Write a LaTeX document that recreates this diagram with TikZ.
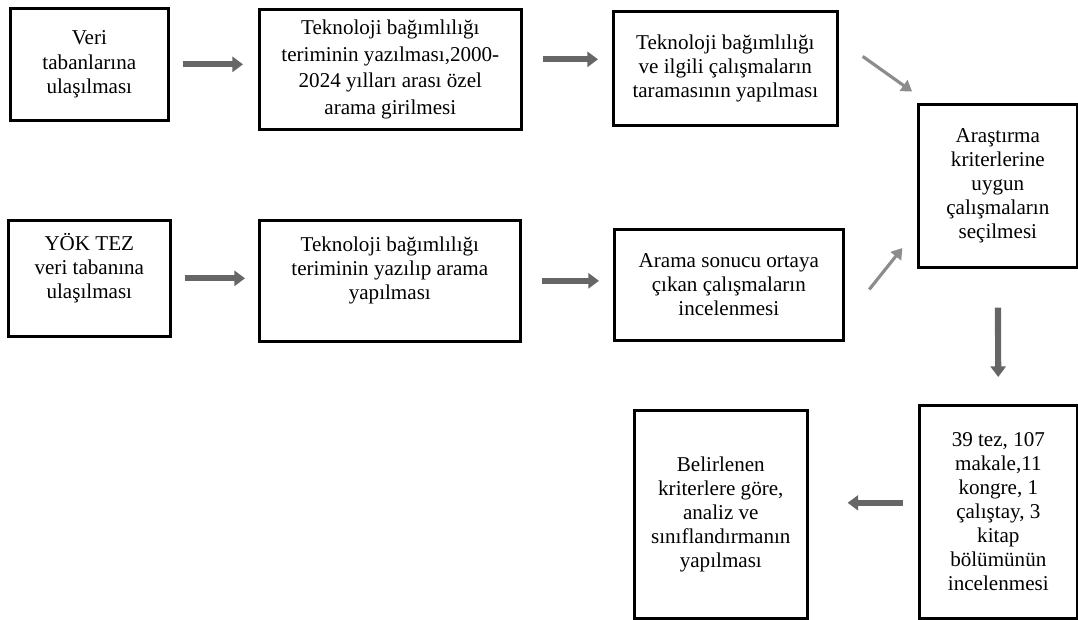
\documentclass[tikz,border=0pt]{standalone}
\usepackage{fontspec}
\setmainfont{Liberation Serif}
\usepackage{tikz}
\usetikzlibrary{arrows.meta}

\tikzset{
  stepbox/.style={draw, line width=1.5pt, inner sep=2pt, align=center,
    anchor=north west, font=\fontsize{12}{13.7}\selectfont},
  fatarrow/.style={draw=black!60, line width=3.5pt,
    -{Triangle[length=6pt,width=8.5pt]}},
  thinarrow/.style={draw=black!45, line width=1.8pt,
    -{Triangle[length=6pt,width=7.5pt]}},
}

\begin{document}
\begin{tikzpicture}
    \useasboundingbox (0,0) rectangle (21.56,-12.38);

    \node [stepbox, minimum width=3.16cm, minimum height=2.24cm] (veri) at (0.18,-0.14)
      {Veri\\tabanlarına\\ulaşılması};
    \node [stepbox, minimum width=5.24cm, minimum height=2.40cm,
      font=\fontsize{12}{15.2}\selectfont] (terim) at (5.16,-0.16)
      {Teknoloji bağımlılığı\\teriminin yazılması,2000-\\2024 yılları arası özel\\arama girilmesi};
    \node [stepbox, minimum width=4.48cm, minimum height=2.28cm] (tarama) at (12.24,-0.20)
      {Teknoloji bağımlılığı\\ve ilgili çalışmaların\\taramasının yapılması};
    \node [stepbox, minimum width=3.18cm, minimum height=3.26cm] (secim) at (18.34,-2.06)
      {Araştırma\\kriterlerine\\uygun\\çalışmaların\\seçilmesi};

    \node [stepbox, minimum width=3.24cm, minimum height=2.32cm, text depth=14pt] (yok) at (0.14,-4.38)
      {YÖK TEZ\\veri tabanına\\ulaşılması};
    \node [stepbox, minimum width=5.22cm, minimum height=2.42cm, text depth=14pt] (arama) at (5.16,-4.38)
      {Teknoloji bağımlılığı\\teriminin yazılıp arama\\yapılması};
    \node [stepbox, minimum width=4.58cm, minimum height=2.22cm] (sonuc) at (12.26,-4.56)
      {Arama sonucu ortaya\\çıkan çalışmaların\\incelenmesi};

    \node [stepbox, minimum width=3.16cm, minimum height=4.26cm] (sayi) at (18.36,-8.08)
      {39 tez, 107\\makale,11\\kongre, 1\\çalıştay, 3\\kitap\\bölümünün\\incelenmesi};
    \node [stepbox, minimum width=3.46cm, minimum height=4.16cm] (analiz) at (12.66,-8.18)
      {Belirlenen\\kriterlere göre,\\analiz ve\\sınıflandırmanın\\yapılması};

    % first row
    \draw [fatarrow, shorten <=0.26cm, shorten >=0.3cm]
      (veri.east) -- (veri.east -| terim.west);
    \draw [fatarrow, shorten <=0.4cm, shorten >=0.28cm]
      ([yshift=0.2cm]terim.east) -- ([yshift=0.2cm]terim.east -| tarama.west);
    \draw [thinarrow, shorten <=0.59cm, shorten >=0.12cm]
      ([yshift=0.58cm]tarama.east) -- ([yshift=0.16cm]secim.north west);

    % second row
    \draw [fatarrow, shorten <=0.26cm, shorten >=0.26cm]
      (yok.east) -- (yok.east -| arama.west);
    \draw [fatarrow, shorten <=0.4cm, shorten >=0.28cm]
      (arama.east) -- (arama.east -| sonuc.west);
    \draw [thinarrow, shorten <=0.79cm, shorten >=0.47cm]
      ([yshift=-0.71cm]sonuc.east) -- ([yshift=0.78cm]secim.south west);

    % down and back
    \draw [fatarrow, shorten <=0.78cm, shorten >=0.54cm]
      (secim.south) -- (sayi.north);
    \draw [fatarrow, shorten <=0.3cm, shorten >=0.78cm]
      ([yshift=0.18cm]sayi.west) -- ([yshift=0.18cm]sayi.west -| analiz.east);
  \end{tikzpicture}
\end{document}
